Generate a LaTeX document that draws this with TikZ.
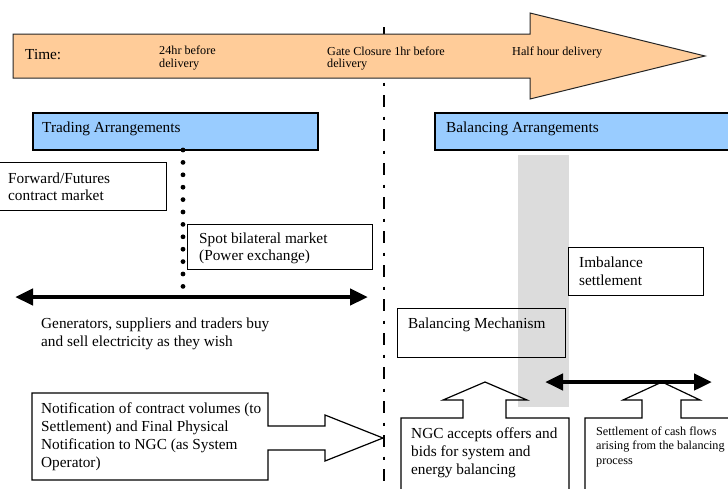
\documentclass[tikz,border=0pt]{standalone}
\usepackage{fontspec}
\setmainfont{Liberation Serif}
\usetikzlibrary{arrows.meta}
\definecolor{peach}{RGB}{255,204,153}
\definecolor{lblue}{RGB}{153,204,255}
\definecolor{lgray}{RGB}{220,220,220}
\begin{document}
\begin{tikzpicture}[x=1pt,y=-1pt,
  txt/.style={anchor=north west, inner sep=0pt, align=left, font=\fontsize{15.3}{18}\selectfont},
  smalltxt/.style={anchor=north west, inner sep=0pt, align=left, font=\fontsize{12.2}{13.5}\selectfont},
  plainbox/.style={draw=black, fill=white, line width=1.2pt, anchor=north west, inner sep=0pt},
  openbox/.style={draw=black, line width=1.2pt, anchor=north west, inner sep=0pt},
  bluebox/.style={draw=black, fill=lblue, line width=1.6pt, anchor=north west, inner sep=0pt},
  blockarrow/.style={draw=black, line width=1.2pt, line join=miter},
  timearrow/.style={draw=black!85, fill=peach, line width=1pt},
  dbl/.style={{Triangle[length=18pt,width=16pt]}-{Triangle[length=18pt,width=16pt]}, line width=4.5pt},
  gateline/.style={line width=2.6pt, dash pattern=on 12pt off 9.5pt on 3pt off 9.5pt},
  dotline/.style={line width=4.8pt, line cap=round, dash pattern=on 0pt off 12.4pt}
]
\useasboundingbox (0,0) rectangle (728,488);
\clip (0,0) rectangle (728,488);
\fill[white] (0,0) rectangle (728,488);

% gate closure line
\coordinate (gtop) at (384,27);
\coordinate (gbot) at (384,494);
\draw[gateline] (gtop) -- (gbot);

% time arrow
\draw[timearrow] (13,34) -- (530,34) -- (530,13) -- (705,56) -- (530,99) -- (530,78) -- (13,78) -- cycle;
\node[txt] (time) at (25,49.5) {Time:};
\node[smalltxt, font=\fontsize{12.2}{13}\selectfont] (t24) at (159,45.5) {24hr before\\delivery};
\node[smalltxt, font=\fontsize{12.2}{12.5}\selectfont] (gate) at (327,46.5) {Gate Closure 1hr before\\delivery};
\node[smalltxt] (half) at (512,46.5) {Half hour delivery};

% grey band
\fill[lgray] (518,155) rectangle (569,407);

% arrangements
\node[bluebox, minimum width=285pt, minimum height=37pt] (tradingbox) at (32,112) {};
\node[txt] (trading) at (42,121.5) {Trading Arrangements};
\node[bluebox, minimum width=300pt, minimum height=37pt] (balbox) at (434,112) {};
\node[txt] (balancing) at (446,121.5) {Balancing Arrangements};

% dotted line
\coordinate (dtop) at (183,150);
\coordinate (dbot) at (183,287);
\draw[dotline] (dtop) -- (dbot);

% forward / spot
\node[plainbox, minimum width=168pt, minimum height=48pt] (fwdbox) at (-2,162) {};
\node[txt] (fwd) at (8,172.5) {Forward/Futures\\[-1pt]contract market};
\node[plainbox, minimum width=185pt, minimum height=45pt] (spotbox) at (187,224) {};
\node[txt] (spot) at (199,232.5) {Spot bilateral market\\[-1pt](Power exchange)};

% left double arrow
\coordinate (la) at (15,297);
\coordinate (lb) at (368,297);
\draw[dbl] (la) -- (lb);
\node[txt] (gen) at (41,317.5) {Generators, suppliers and traders buy\\and sell electricity as they wish};

% imbalance settlement
\node[plainbox, minimum width=135pt, minimum height=48pt] (imbbox) at (568,247) {};
\node[txt] (imb) at (579,256.5) {Imbalance\\settlement};

% balancing mechanism
\node[openbox, minimum width=168pt, minimum height=49pt] (bmbox) at (397,308) {};
\node[txt] (bm) at (408,317.5) {Balancing Mechanism};

% notification box with arrow
\draw[blockarrow] (32,393) -- (268,393) -- (268,426) -- (325,426) -- (325,415) -- (383,438) -- (325,461) -- (325,450) -- (268,450) -- (268,480) -- (32,480) -- cycle;
\node[txt] (notif) at (41,402.5) {Notification of contract volumes (to\\Settlement) and Final Physical\\Notification to NGC (as System\\Operator)};

% NGC box with up arrow
\draw[blockarrow] (401,494) -- (401,418) -- (463,418) -- (463,400) -- (443,400) -- (485,382) -- (527,400) -- (506,400) -- (506,418) -- (569,418) -- (569,494);
\node[txt] (ngc) at (411,427.5) {NGC accepts offers and\\bids for system and\\energy balancing};

% settlement box with up arrow
\draw[blockarrow] (585,494) -- (585,418) -- (642,418) -- (642,400) -- (623,400) -- (662,382) -- (700,400) -- (681,400) -- (681,418) -- (734,418);
\node[smalltxt, font=\fontsize{12.2}{14.5}\selectfont] (settle) at (596,426.5) {Settlement of cash flows\\arising from the balancing\\process};

% right double arrow
\coordinate (ra) at (545,382);
\coordinate (rb) at (712,382);
\draw[dbl] (ra) -- (rb);
\end{tikzpicture}
\end{document}
